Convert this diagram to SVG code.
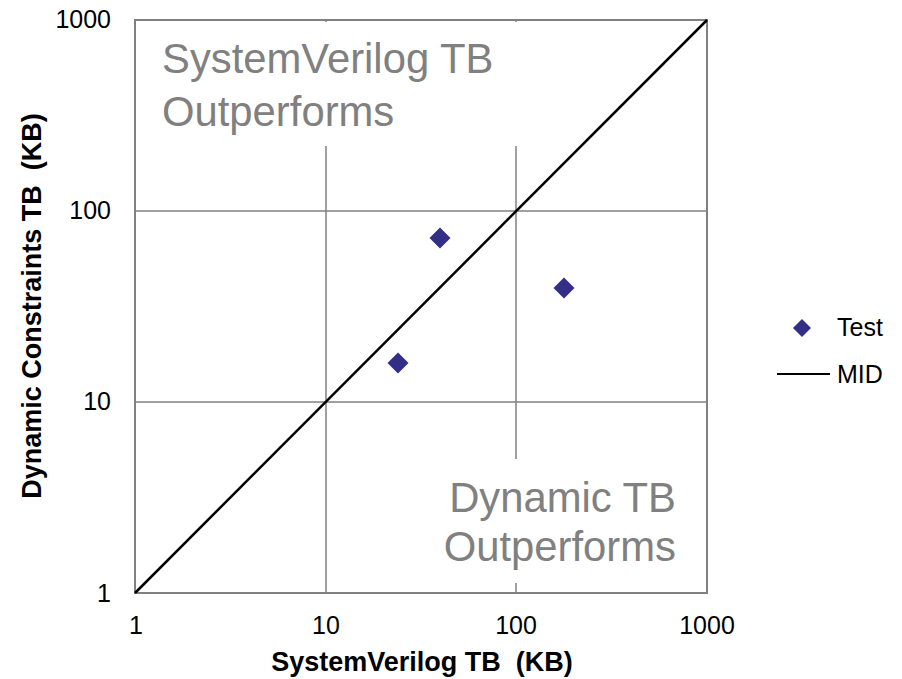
<svg xmlns="http://www.w3.org/2000/svg" width="902" height="679" viewBox="0 0 902 679">
  <style>
    .grid { stroke: #808080; stroke-width: 1.5; fill: none; }
    .frame { stroke: #808080; stroke-width: 2; fill: none; }
    .mid { stroke: #000000; stroke-width: 2.5; fill: none; }
    .tick { font-family: "Liberation Sans", Arial, sans-serif; font-size: 25px; fill: #000000; }
    .title { font-family: "Liberation Sans", Arial, sans-serif; font-size: 27px; font-weight: bold; fill: #000000; white-space: pre; }
    .note { font-family: "Liberation Sans", Arial, sans-serif; font-size: 41.8px; fill: #808080; }
    .legend { font-family: "Liberation Sans", Arial, sans-serif; font-size: 25px; fill: #000000; }
    .pt { fill: #332f87; }
  </style>
  <defs>
    <path id="diamond" d="M0,-10.5 L10.5,0 L0,10.5 L-10.5,0 Z"/>
    <path id="diamond-sm" d="M0,-9 L9,0 L0,9 L-9,0 Z"/>
  </defs>
  <rect width="902" height="679" fill="#ffffff"/>

  <!-- plot area grid (log-log, decades every 190.67 px) -->
  <g id="grid">
    <line class="grid" x1="326" y1="20" x2="326" y2="593"/>
    <line class="grid" x1="516" y1="20" x2="516" y2="593"/>
    <line class="grid" x1="135" y1="211" x2="707" y2="211"/>
    <line class="grid" x1="135" y1="402" x2="707" y2="402"/>
  </g>

  <!-- annotation boxes mask the grid behind them -->
  <g id="note-sv">
    <rect x="150" y="22" width="376" height="124" fill="#ffffff"/>
    <text class="note" x="162" y="73">SystemVerilog TB</text>
    <text class="note" x="162" y="126">Outperforms</text>
  </g>
  <g id="note-dyn">
    <rect x="430" y="459" width="270" height="124" fill="#ffffff"/>
    <text class="note" x="676" y="512" text-anchor="end">Dynamic TB</text>
    <text class="note" x="676" y="561" text-anchor="end">Outperforms</text>
  </g>

  <rect id="frame" class="frame" x="135" y="20" width="572" height="573"/>

  <!-- connectors: the MID reference line y = x -->
  <g id="connectors">
    <line class="mid" x1="135" y1="593" x2="707" y2="20"/>
  </g>

  <!-- Test series -->
  <g id="test-points">
    <use href="#diamond" class="pt" x="440" y="238"/>
    <use href="#diamond" class="pt" x="564" y="288"/>
    <use href="#diamond" class="pt" x="398" y="363"/>
  </g>

  <!-- axis tick labels -->
  <g id="y-ticks" text-anchor="end">
    <text class="tick" x="111" y="28">1000</text>
    <text class="tick" x="111" y="219">100</text>
    <text class="tick" x="111" y="410">10</text>
    <text class="tick" x="111" y="602">1</text>
  </g>
  <g id="x-ticks" text-anchor="middle">
    <text class="tick" x="136" y="634">1</text>
    <text class="tick" x="326" y="634">10</text>
    <text class="tick" x="516" y="634">100</text>
    <text class="tick" x="707" y="634">1000</text>
  </g>

  <!-- axis titles -->
  <text id="x-title" class="title" x="422" y="671" text-anchor="middle" xml:space="preserve">SystemVerilog TB  (KB)</text>
  <text id="y-title" class="title" x="0" y="0" text-anchor="middle" transform="translate(41,306) rotate(-90)" xml:space="preserve">Dynamic Constraints TB  (KB)</text>

  <!-- legend -->
  <g id="legend">
    <use href="#diamond-sm" class="pt" x="802" y="328"/>
    <text class="legend" x="837" y="336">Test</text>
    <line class="mid" x1="777" y1="374" x2="830" y2="374" style="stroke-width:2"/>
    <text class="legend" x="837" y="383">MID</text>
  </g>
</svg>
